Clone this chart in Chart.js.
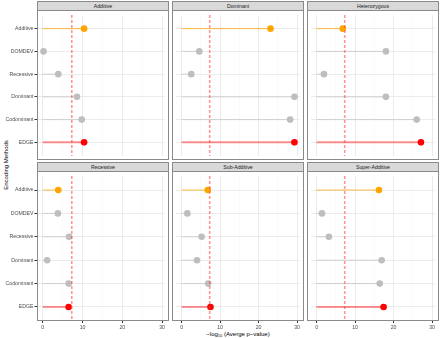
<!DOCTYPE html>
<html><head><meta charset="utf-8">
<script src="https://cdn.jsdelivr.net/npm/chart.js@4"></script>
<style>
body{margin:0;background:#fff;}
#wrap{position:relative;width:440px;height:338px;overflow:hidden;font-family:"Liberation Sans",Arial,sans-serif;background:#fff;}
canvas{position:absolute;}
.strip{position:absolute;background:#D9D9D9;border:1px solid #8a8a8a;box-sizing:border-box;font-size:5.2px;line-height:8px;color:#1A1A1A;text-align:center;}
.frame{position:absolute;border:1px solid #8a8a8a;box-sizing:border-box;pointer-events:none;}
#ytitle{position:absolute;left:-44px;top:161px;width:100px;height:8px;line-height:8px;font-size:6px;text-align:center;transform:rotate(-90deg);color:#000;}
#xtitle{position:absolute;left:172px;top:330px;width:132px;height:8px;line-height:8px;font-size:6px;text-align:center;color:#000;white-space:nowrap;}
#xtitle sub{font-size:4px;vertical-align:-1px;line-height:0;}
</style></head>
<body>
<div id="wrap">
<div id="ytitle">Encoding Methods</div>
<div id="xtitle">−log<sub>10</sub> (Averge p−value)</div>
</div>
<script>
// ---- data ----
const methods = ['Additive','DOMDEV','Recessive','Dominant','Codominant','EDGE'];
const panelNames = ['Additive','Dominant','Heterozygous','Recessive','Sub-Additive','Super-Additive'];
const additiveModel      = [10.4, 0.2, 3.9, 8.6, 9.8, 10.4];
const dominantModel      = [23.1, 4.6, 2.5, 29.3, 28.2, 29.3];
const heterozygousModel  = [6.8, 18.0, 1.9, 18.0, 26.0, 27.1];
const recessiveModel     = [3.9, 3.8, 6.6, 1.1, 6.5, 6.5];
const subAdditiveModel   = [6.8, 1.5, 5.2, 4.0, 6.9, 7.5];
const superAdditiveModel = [16.2, 1.4, 3.2, 16.9, 16.4, 17.4];
const threshold = 7.3;
const xTickValues = [0, 5, 10, 15, 20, 25, 30];
const xLabelValues = [0, 10, 20, 30];

const panelData = [additiveModel, dominantModel, heterozygousModel, recessiveModel, subAdditiveModel, superAdditiveModel];

// ---- styles ----
const pointColors = methods.map(m => m === 'Additive' ? '#FFA500' : (m === 'EDGE' ? '#FF0000' : '#BEBEBE'));
const lineColors = methods.map(m => m === 'Additive' ? 'rgba(255,165,0,0.75)' : (m === 'EDGE' ? 'rgba(255,0,0,0.42)' : 'rgba(190,190,190,0.65)'));
const lineWidths = methods.map(m => m === 'EDGE' ? 2 : 1);

const colLeft = [37, 172, 307];
const panelW = 132;
const rowTop = [11, 172];
const panelH = 149;
const stripTop = [1, 162];

const wrap = document.getElementById('wrap');

const threshPlugin = {
  id: 'thresh',
  afterDatasetsDraw(chart) {
    const xs = chart.scales.x, a = chart.chartArea, ctx = chart.ctx;
    const px = xs.getPixelForValue(threshold);
    ctx.save();
    ctx.strokeStyle = 'rgba(255,60,60,0.55)';
    ctx.lineWidth = 1.6;
    ctx.setLineDash([3, 2]);
    ctx.beginPath();
    ctx.moveTo(px, a.top);
    ctx.lineTo(px, a.bottom);
    ctx.stroke();
    ctx.restore();
  }
};

panelData.forEach((vals, p) => {
  const col = p % 3, row = Math.floor(p / 3);
  const isLeft = col === 0, isBottom = row === 1;
  const cLeft = isLeft ? 0 : colLeft[col];
  const cWidth = colLeft[col] + panelW - cLeft;
  const yAxisW = colLeft[col] - cLeft;
  const xAxisH = isBottom ? 11 : 0;
  const cTop = rowTop[row];
  const cHeight = panelH + xAxisH;

  const s = document.createElement('div');
  s.className = 'strip';
  s.style.left = colLeft[col] + 'px';
  s.style.top = stripTop[row] + 'px';
  s.style.width = panelW + 'px';
  s.style.height = (rowTop[row] - stripTop[row]) + 'px';
  s.style.lineHeight = (rowTop[row] - stripTop[row] - 2) + 'px';
  s.textContent = panelNames[p];
  wrap.appendChild(s);

  const cv = document.createElement('canvas');
  cv.width = cWidth; cv.height = cHeight;
  cv.style.left = cLeft + 'px'; cv.style.top = cTop + 'px';
  cv.style.width = cWidth + 'px'; cv.style.height = cHeight + 'px';
  wrap.appendChild(cv);

  const f = document.createElement('div');
  f.className = 'frame';
  f.style.left = colLeft[col] + 'px';
  f.style.top = (rowTop[row] - 1) + 'px';
  f.style.width = panelW + 'px';
  f.style.height = (panelH + 1) + 'px';
  wrap.appendChild(f);

  const datasets = methods.map((m, i) => ({
    type: 'scatter',
    data: [{x: 0, y: i}, {x: vals[i], y: i}],
    showLine: true,
    borderColor: lineColors[i],
    borderWidth: lineWidths[i],
    pointRadius: 0,
    order: 2
  }));
  datasets.push({
    type: 'scatter',
    data: methods.map((m, i) => ({x: vals[i], y: i})),
    pointRadius: 3.3,
    pointBackgroundColor: pointColors,
    pointBorderColor: pointColors,
    pointBorderWidth: 0,
    order: 1
  });

  new Chart(cv, {
    type: 'scatter',
    data: {datasets},
    plugins: [threshPlugin],
    options: {
      responsive: false,
      animation: false,
      devicePixelRatio: 1,
      layout: {padding: 0},
      plugins: {legend: {display: false}, tooltip: {enabled: false}},
      scales: {
        x: {
          type: 'linear', min: -1.45, max: 30.75,
          afterBuildTicks: sc => { sc.ticks = xTickValues.map(v => ({value: v})); },
          afterFit: sc => { sc.height = xAxisH; sc.paddingLeft = 0; sc.paddingRight = 0; },
          border: {display: false},
          grid: {
            color: c => (xLabelValues.includes(c.tick && c.tick.value) ? '#EBEBEB' : '#F6F6F6'),
            lineWidth: c => (xLabelValues.includes(c.tick && c.tick.value) ? 1 : 0.6),
            drawTicks: isBottom,
            tickLength: 2,
            tickColor: c => (xLabelValues.includes(c.tick && c.tick.value) ? '#333333' : 'rgba(0,0,0,0)')
          },
          ticks: {
            display: isBottom,
            autoSkip: false,
            maxRotation: 0,
            padding: 1,
            font: {family: 'Liberation Sans', size: 5.2},
            color: '#4D4D4D',
            callback: v => (xLabelValues.includes(v) ? String(v) : '')
          }
        },
        y: {
          type: 'linear', min: -0.6, max: 5.6, reverse: true,
          afterBuildTicks: sc => { sc.ticks = methods.map((m, i) => ({value: i})); },
          afterFit: sc => { sc.width = yAxisW; sc.paddingTop = 0; sc.paddingBottom = 0; },
          border: {display: false},
          grid: {
            color: '#EBEBEB',
            lineWidth: 1,
            drawTicks: isLeft,
            tickLength: 2.5,
            tickColor: '#333333'
          },
          ticks: {
            display: isLeft,
            autoSkip: false,
            padding: 1,
            font: {family: 'Liberation Sans', size: 5.2},
            color: '#4D4D4D',
            callback: v => methods[v]
          }
        }
      }
    }
  });
});
</script>
</body></html>
